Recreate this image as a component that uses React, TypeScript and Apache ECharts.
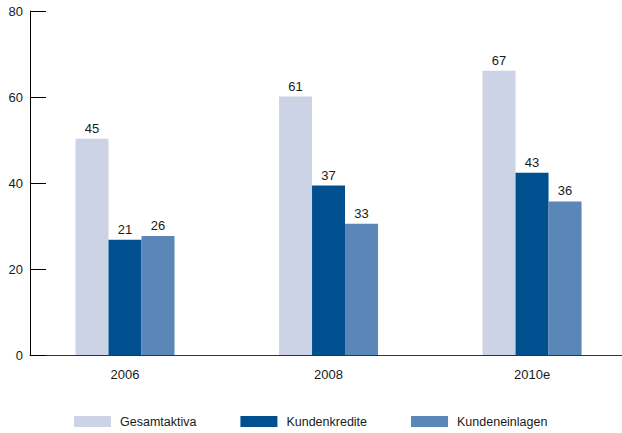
import React, { useEffect, useRef } from "react";
import * as echarts from "echarts";

const categories = ["2006", "2008", "2010e"];
const seriesNames = ["Gesamtaktiva", "Kundenkredite", "Kundeneinlagen"];
// bar heights as drawn
const gesamtaktiva = [50.3, 60.1, 66.1];
const kundenkredite = [26.8, 39.4, 42.4];
const kundeneinlagen = [27.7, 30.5, 35.7];
// value labels as printed
const gesamtaktivaLabels = ["45", "61", "67"];
const kundenkrediteLabels = ["21", "37", "43"];
const kundeneinlagenLabels = ["26", "33", "36"];
const yTicks = [0, 20, 40, 60, 80];

const colors = ["#cdd3e6", "#00508f", "#5b86b8"];
const FONT = "'Liberation Sans', Arial, sans-serif";

export default function App() {
  const ref = useRef<HTMLDivElement>(null);
  useEffect(() => {
    if (!ref.current) return;
    const chart = echarts.init(ref.current, undefined, { renderer: "svg" });
    const values = [gesamtaktiva, kundenkredite, kundeneinlagen];
    const labels = [gesamtaktivaLabels, kundenkrediteLabels, kundeneinlagenLabels];
    chart.setOption({
      animation: false,
      textStyle: { fontFamily: FONT },
      grid: { left: 30, right: 0, top: 11, bottom: 78 },
      legend: {
        left: 74,
        top: 415,
        padding: 0,
        itemWidth: 37,
        itemHeight: 11,
        itemGap: 44,
        icon: "rect",
        textStyle: { fontSize: 12.5, color: "#1a1a1a", fontFamily: FONT, padding: [0, 0, 0, 4] },
        data: seriesNames,
      },
      xAxis: {
        type: "value",
        min: -0.4668,
        max: 2.442,
        splitLine: { show: false },
        axisTick: { show: false },
        axisLine: { show: true, onZero: false, lineStyle: { color: "#333", width: 1 } },
        axisLabel: {
          customValues: [0, 1, 2],
          formatter: (v: number) => categories[Math.round(v)] ?? "",
          fontSize: 13,
          color: "#1a1a1a",
          margin: 13,
          fontFamily: FONT,
        },
      },
      yAxis: {
        type: "value",
        min: yTicks[0],
        max: yTicks[yTicks.length - 1],
        interval: 20,
        splitLine: { show: false },
        axisLine: { show: true, onZero: false, lineStyle: { color: "#000", width: 1 } },
        axisTick: { show: true, inside: true, length: 16, lineStyle: { color: "#000" } },
        axisLabel: { fontSize: 13, color: "#1a1a1a", margin: 7, fontFamily: FONT },
      },
      series: seriesNames.map((name, si) => ({
        name,
        type: "bar",
        barWidth: 33,
        barGap: "0%",
        itemStyle: { color: colors[si] },
        label: {
          show: true,
          position: "top",
          distance: 4,
          fontSize: 13,
          color: "#1a1a1a",
          fontFamily: FONT,
          formatter: (p: any) => labels[si][p.dataIndex],
        },
        data: values[si].map((v, i) => [i, v]),
      })),
    });
    return () => chart.dispose();
  }, []);
  return <div ref={ref} style={{ width: 622, height: 433, position: "absolute", left: 0, top: 0 }} />;
}
